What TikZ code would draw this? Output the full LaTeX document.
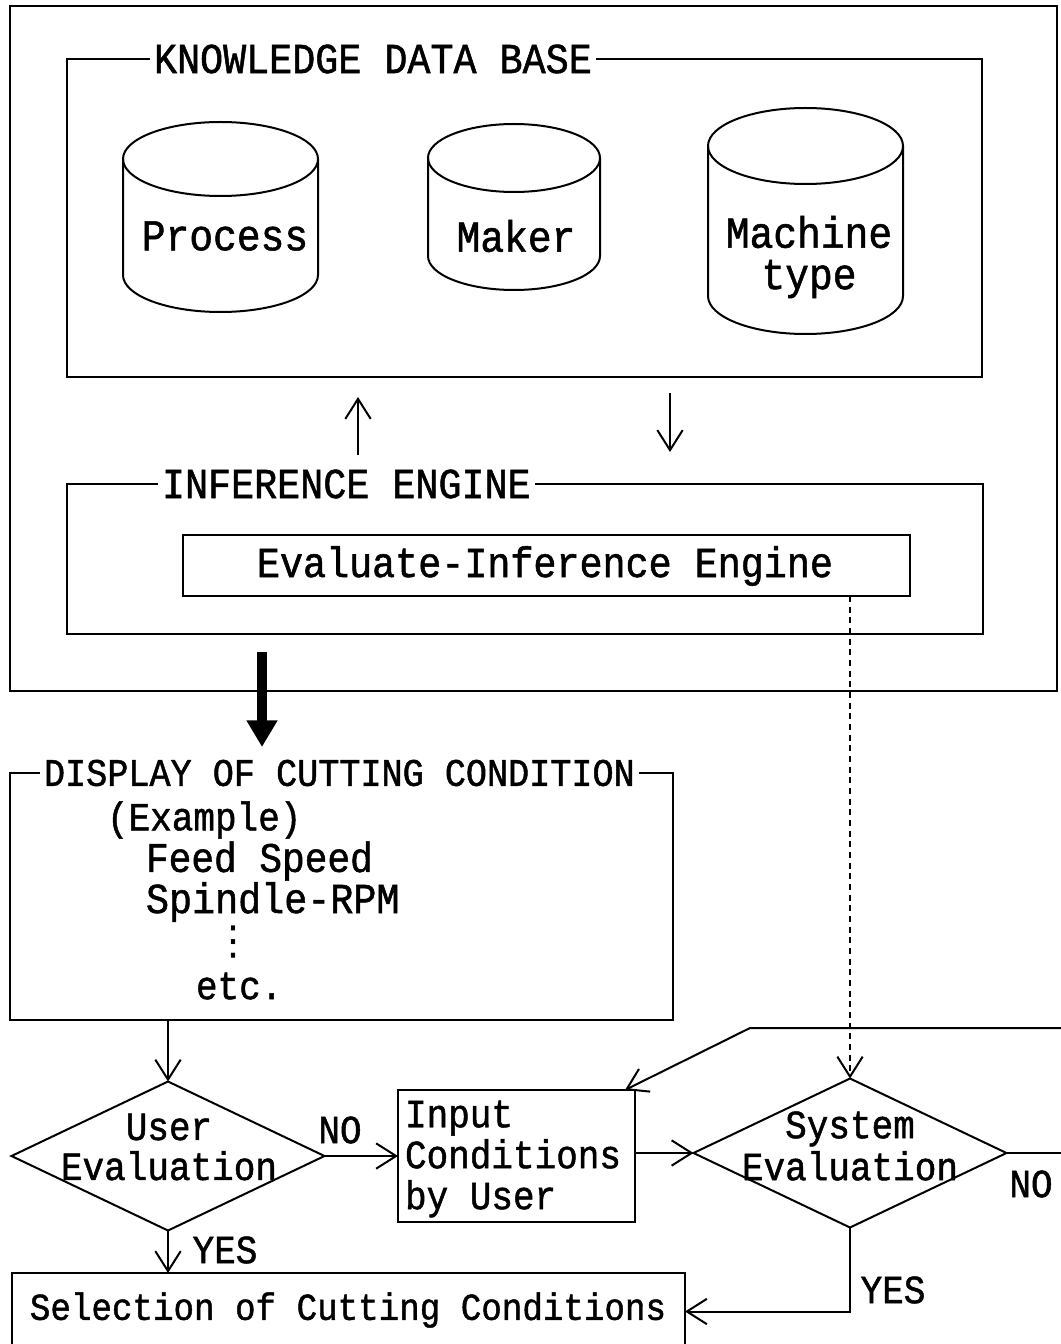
\documentclass[tikz,border=0pt]{standalone}
\usepackage{fontspec}
\setmainfont{Liberation Serif}
\newfontfamily\mono[FakeStretch=0.9,FakeBold=1.2]{Liberation Mono}
\newfontfamily\symb{DejaVu Sans}
\usetikzlibrary{arrows.meta,shapes.geometric,fit}
\newcommand\fsz[2]{\mono\fontsize{#1}{#2}\selectfont}
% database cylinder: name, centre x, x radius, top y, bottom y, y radius
\newcommand\dbcyl[6]{%
  \draw[cyl] (#2,#4) ellipse [x radius=#3, y radius=#6];
  \draw[cyl] (#2-#3,#4) -- (#2-#3,#5)
     arc [start angle=180, end angle=0, x radius=#3, y radius=#6] -- (#2+#3,#4);
  \coordinate (#1) at (#2,{(#4+#5)/2});
}
\begin{document}
\begin{tikzpicture}[x=0.75pt,y=-0.75pt,
  every node/.style={inner sep=0pt, outer sep=0pt},
  frame/.style={draw, line width=1.7pt, inner sep=0pt},
  cyl/.style={line width=1.5pt},
  ttl/.style={fill=white, inner xsep=3pt, inner ysep=2pt, anchor=west},
  txtA/.style={font=\fsz{32}{38}},
  lbl/.style={font=\fsz{30}{30}},
  link/.style={line width=1.5pt},
  arr/.style={line width=1.5pt, -{Straight Barb[length=15pt,width=19pt]}},
  dotlink/.style={line width=1.5pt, dash pattern=on 4.5pt off 3.5pt},
  bigarrow/.style={line width=7.5pt, -{Triangle[length=20pt,width=22pt]}},
  decision/.style={diamond, draw, line width=1.5pt, inner sep=0pt,
     minimum width=313*0.75pt, minimum height=149*0.75pt},
]
\useasboundingbox (0,0) rectangle (1060,1344);
\fill[white] (0,0) rectangle (1060,1344);

% ---------- expert system frame ----------
\node[frame, fit={(10,6)(1057,691)}] (outer) {};

% knowledge data base
\node[frame, fit={(67,59)(982,377)}] (kdb) {};
\node[ttl, txtA] (kdbT) at (150,59) {KNOWLEDGE DATA BASE};

\dbcyl{procC}{220.5}{97.5}{159}{275}{37}
\dbcyl{makerC}{514}{86}{158}{256}{34}
\dbcyl{machC}{805.5}{97.5}{146}{296}{38}
\node[font=\fsz{33}{38}] (procT) at (225,236) {Process};
\node[font=\fsz{33}{38}] (makerT) at (516,236) {Maker};
\node[font=\fsz{33}{38}] (machT) at (809,232) {Machine};
\node[font=\fsz{33}{38}] (machT2) at (809,279) {type};

% exchange between data base and inference engine
\coordinate (upS) at (358,455);
\coordinate (upE) at (358,397);
\coordinate (dnS) at (670,393);
\coordinate (dnE) at (670,452);
\draw[arr] (upS) -- (upE);
\draw[arr] (dnS) -- (dnE);

% inference engine
\node[frame, fit={(67,484)(983,634)}] (ie) {};
\node[ttl, txtA] (ieT) at (158,484) {INFERENCE ENGINE};
\node[frame, fit={(183,535)(910,596)}] (eie) {};
\node[txtA] (eieT) at (545,566) {Evaluate-Inference Engine};

% output of the engine
\coordinate (thS) at (262,652);
\coordinate (thE) at (262,747);
\draw[bigarrow] (thS) -- (thE);

% ---------- display of cutting condition ----------
\node[frame, fit={(10,773)(673,1020)}] (disp) {};
\node[ttl, font=\fsz{29.3}{30}] (dispT) at (40,773) {DISPLAY OF CUTTING CONDITION};
\node[anchor=west, font=\fsz{30}{30}] (ex) at (107,820) {(Example)};
\node[anchor=west, font=\fsz{31.5}{30}] (feed) at (146,861) {Feed Speed};
\node[anchor=west, font=\fsz{32}{30}] (spin) at (146,902) {Spindle-RPM};
\node[font=\symb\fontsize{30}{30}\selectfont] (vd) at (233,942) {⋮};
\node[anchor=west, font=\fsz{30}{30}] (etc) at (196,986) {etc.};

% ---------- evaluation flow ----------
\node[decision] (user) at (168,1156) {};
\node[font=\fsz{30}{30}, align=center] (userT) at (169,1147) {User\\Evaluation};

\node[frame, line width=1.5pt, fit={(398,1090)(635,1222)}] (inp) {};
\node[anchor=west, font=\fsz{30}{30.7}, align=left] (inpT) at (405,1159) {Input\\Conditions\\by User};

\node[decision] (sys) at (850,1153) {};
\node[font=\fsz{30}{31.5}, align=center] (sysT) at (850,1146) {System\\Evaluation};

\node[frame, line width=1.5pt, fit={(12,1273)(685,1350)}] (sel) {};
\node[font=\fsz{28.5}{30}] (selT) at (348,1310) {Selection of Cutting Conditions};

% labels
\node[lbl] (noU) at (340,1130) {NO};
\node[lbl] (noS) at (1031,1184) {NO};
\node[lbl] (yesU) at (225,1250) {YES};
\node[lbl] (yesS) at (893,1290) {YES};

% connectors
\draw[arr] (user.north |- disp.south) -- (user.north);
\draw[arr] (user.east) -- (user.east -| inp.west);
\draw[arr] (inp.east |- sys.west) -- (sys.west);
\draw[arr] (user.south) -- (user.south |- sel.north);
\draw[arr] (sys.south) |- (sel.east);
\draw[dotlink, -{Straight Barb[length=15pt,width=19pt]}] (sys.north |- eie.south) -- (sys.north);

% re-entry loop from the system check
\coordinate (noEnd) at (1064,1153);
\coordinate (fbR) at (1064,1028);
\coordinate (fbK) at (750,1028);
\draw[link] (sys.east) -- (sys.east -| noEnd);
\draw[arr] (fbR) -- (fbK) -- ([xshift=-7.5pt]inp.north east);
\end{tikzpicture}
\end{document}
